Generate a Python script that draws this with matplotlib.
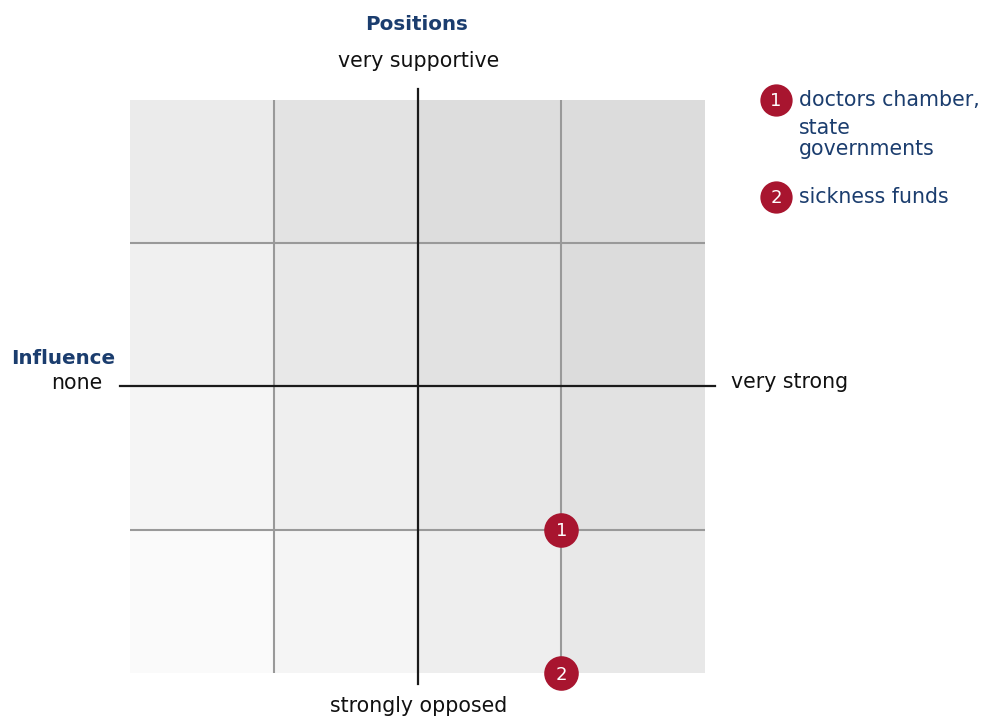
import numpy as np
import matplotlib.pyplot as plt

plt.rcParams['font.family'] = ['DejaVu Sans']

# cell shades (rows from bottom to top, columns left to right)
cell_shades = [
    ['#fafafa', '#f5f5f5', '#eeeeee', '#e8e8e8'],
    ['#f5f5f5', '#efefef', '#e8e8e8', '#e2e2e2'],
    ['#f0f0f0', '#e8e8e8', '#e2e2e2', '#dcdcdc'],
    ['#ebebeb', '#e3e3e3', '#dddddd', '#dcdcdc'],
]

# actors: influence (0..4), position (0..4)
actor_ids = ['1', '2']
actor_influence = [3, 3]
actor_position = [1, 0]
# legend lines per actor
actor_lines = [['doctors chamber,', 'state', 'governments'], ['sickness funds']]

title_blue = '#1b3d6e'
marker_red = '#a8152f'

fig = plt.figure(figsize=(9.89, 7.18), dpi=100)
W, H = 989, 718

# overlay in pixel coordinates for labels and legend
over = fig.add_axes([0, 0, 1, 1])
over.set_xlim(0, W)
over.set_ylim(H, 0)
over.axis('off')

ax = fig.add_axes([130 / W, 1 - 673 / H, 575 / W, 573 / H])
ax.set_xlim(0, 4)
ax.set_ylim(0, 4)
ax.axis('off')

for r in range(4):
    for c in range(4):
        ax.add_patch(plt.Rectangle((c, r), 1, 1, facecolor=cell_shades[r][c], edgecolor='none', zorder=0))

# grid lines
for v in [1, 3]:
    ax.plot([v, v], [0, 4], color='#999999', lw=1.5, zorder=1)
    ax.plot([0, 4], [v, v], color='#999999', lw=1.5, zorder=1)

# main axes crossing
ax.plot([2, 2], [-0.08, 4.08], color='#1a1a1a', lw=1.6, zorder=2, clip_on=False)
ax.plot([-0.07, 4.07], [2, 2], color='#1a1a1a', lw=1.6, zorder=2, clip_on=False)

# actors
for i, x, y in zip(actor_ids, actor_influence, actor_position):
    ax.scatter([x], [y], s=620, color=marker_red, zorder=3, clip_on=False, linewidths=0)
    ax.text(x, y - 0.012, i, color='white', fontsize=13, ha='center', va='center', zorder=4)

fs = 14.8
fsb = 14.3
over.text(417, 24, 'Positions', color=title_blue, fontsize=fsb, fontweight='bold', ha='center', va='center')
over.text(419, 61, 'very supportive', color='#111111', fontsize=fs, ha='center', va='center')
over.text(419, 706, 'strongly opposed', color='#111111', fontsize=fs, ha='center', va='center')
over.text(115, 359, 'Influence', color=title_blue, fontsize=fsb, fontweight='bold', ha='right', va='center')
over.text(102, 383, 'none', color='#111111', fontsize=fs, ha='right', va='center')
over.text(731, 382, 'very strong', color='#111111', fontsize=fs, ha='left', va='center')

# legend
leg_y = [100, 197]
line_offsets = [0, 28, 49]
for i, lines, ly in zip(actor_ids, actor_lines, leg_y):
    over.scatter([776], [ly], s=540, color=marker_red, linewidths=0)
    over.text(776, ly + 1, i, color='white', fontsize=13, ha='center', va='center')
    for line, off in zip(lines, line_offsets):
        over.text(799, ly + off, line, color=title_blue, fontsize=fs, ha='left', va='center')

fig.savefig('out.png', dpi=100)
